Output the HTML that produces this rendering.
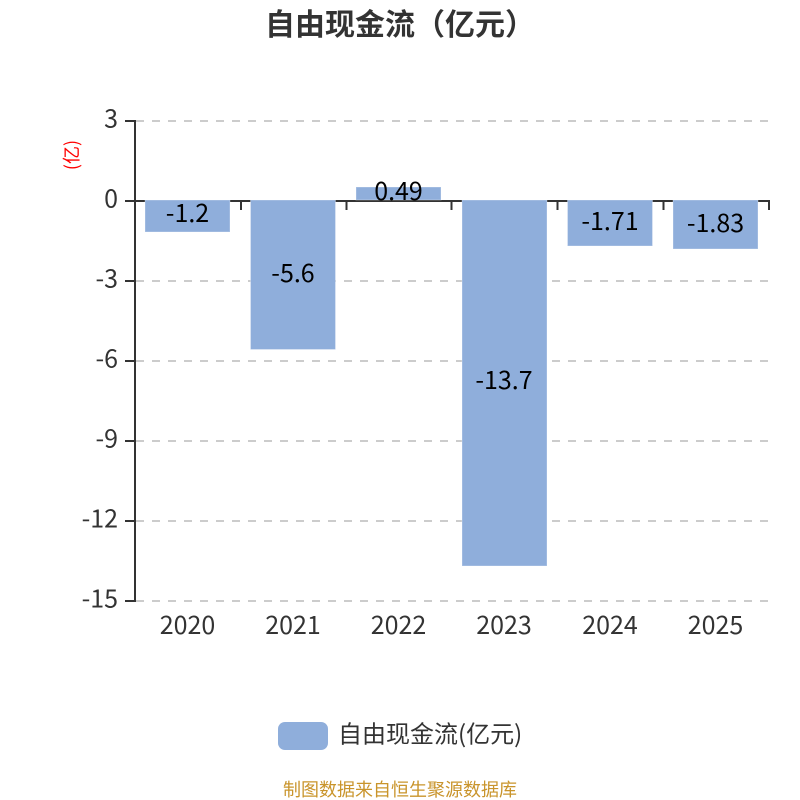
<!DOCTYPE html>
<html><head><meta charset="utf-8"><style>html,body{margin:0;padding:0;background:#fff}svg{display:block}
text{font-family:"Noto Sans CJK SC","Liberation Sans",sans-serif}</style></head>
<body><svg width="800" height="800" viewBox="0 0 800 800" xmlns="http://www.w3.org/2000/svg">
<rect width="800" height="800" fill="#fff"/>
<text x="400" y="35" text-anchor="middle" font-size="30" font-weight="700" fill="#333">自由现金流（亿元）</text>
<g stroke="#ccc" stroke-width="2" stroke-dasharray="8 8" fill="none">
<path d="M136 121H769"/><path d="M136 281H769"/><path d="M136 361H769"/><path d="M136 441H769"/><path d="M136 521H769"/><path d="M136 601H769"/>
</g>
<g stroke="#333" stroke-width="2" fill="none">
<path d="M135 120V602"/>
<path d="M125 121H135M125 201H135M125 281H135M125 361H135M125 441H135M125 521H135M125 601H135"/>
<path d="M135 201H770"/>
<path d="M241 201V210M346.500 201V210M451.500 201V210M557.500 201V210M663.500 201V210M769 201V210"/>
</g>
<g fill="#8faedb" stroke="#fff" stroke-opacity=".3">
<rect x="145" y="200" width="85" height="32"/>
<rect x="250.500" y="200" width="85" height="149.500"/>
<rect x="356" y="187" width="85" height="13"/>
<rect x="462" y="200" width="85" height="366"/>
<rect x="567.500" y="200" width="85" height="46"/>
<rect x="673" y="200" width="85" height="49"/>
</g>
<g font-size="25" fill="#333" text-anchor="end">
<text x="118" y="127.500">3</text>
<text x="118" y="207.500">0</text>
<text x="118" y="287.500">-3</text>
<text x="118" y="367.500">-6</text>
<text x="118" y="447.500">-9</text>
<text x="118" y="527.500">-12</text>
<text x="118" y="607.500">-15</text>
</g>
<g font-size="25" fill="#333" text-anchor="middle">
<text x="187.500" y="634">2020</text>
<text x="293" y="634">2021</text>
<text x="398.500" y="634">2022</text>
<text x="504" y="634">2023</text>
<text x="610" y="634">2024</text>
<text x="715.500" y="634">2025</text>
</g>
<g font-size="25" fill="#000" text-anchor="middle">
<text x="187.500" y="222">-1.2</text>
<text x="293" y="282">-5.6</text>
<text x="398.500" y="200">0.49</text>
<text x="504" y="389">-13.7</text>
<text x="610" y="230">-1.71</text>
<text x="715.500" y="232">-1.83</text>
</g>
<text transform="translate(78 155) rotate(-90)" text-anchor="middle" font-size="18" fill="#f00">(亿)</text>
<rect x="278" y="722" width="50" height="28" rx="7" fill="#8faedb"/>
<text x="338" y="742.500" font-size="24" fill="#333">自由现金流(亿元)</text>
<text x="400" y="796" text-anchor="middle" font-size="18" fill="#c9942b">制图数据来自恒生聚源数据库</text>
</svg></body></html>
